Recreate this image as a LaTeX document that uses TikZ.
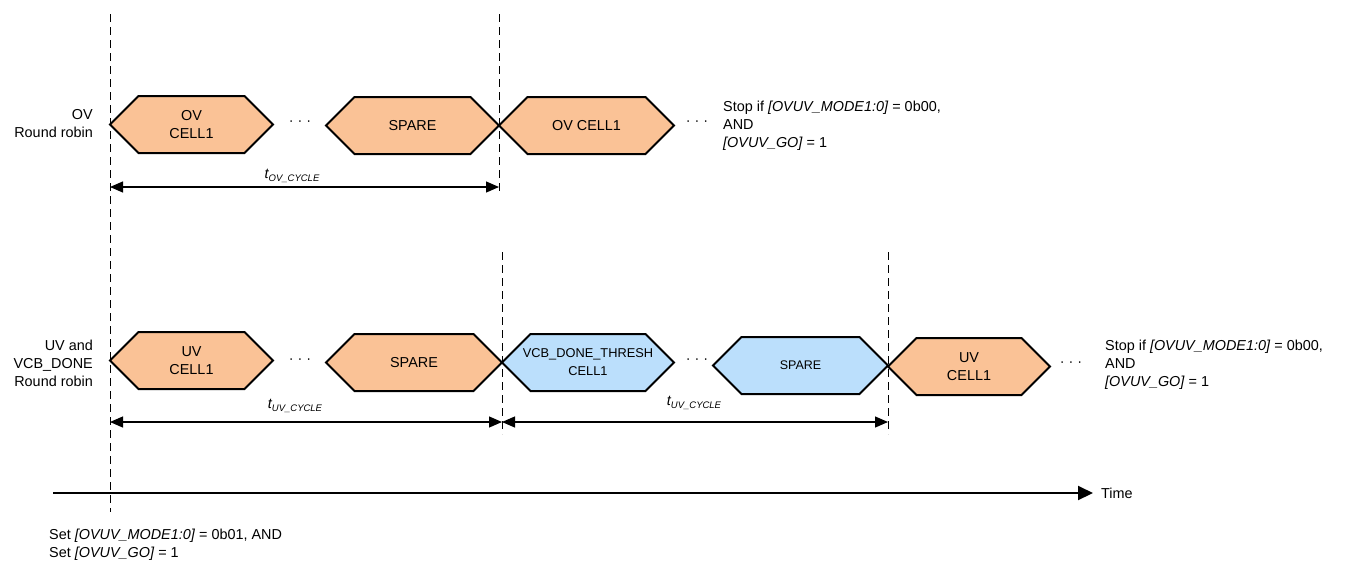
\documentclass[tikz,border=0pt]{standalone}
\usepackage{fontspec}
\setmainfont{Liberation Sans}
\usetikzlibrary{arrows.meta}
\definecolor{hexorange}{RGB}{250,194,150}
\definecolor{hexblue}{RGB}{187,223,252}
\newcommand\hexbox[7]{%
  % #1 name, #2 xleft point, #3 xright point, #4 ytop, #5 ybot, #6 fill, #7 text
  \pgfmathsetmacro\hxs{(#5-#4)/2}%
  \draw[hexline,fill=#6] (#2,{(#4+#5)/2}) -- (#2+\hxs,#4) -- (#3-\hxs,#4) -- (#3,{(#4+#5)/2}) -- (#3-\hxs,#5) -- (#2+\hxs,#5) -- cycle;
  \node[txt,align=center] (#1) at ({(#2+#3)/2},{(#4+#5)/2}) {#7};%
}
\newcommand\vcbfont{\fontsize{12.8}{17}\selectfont}
\begin{document}
\begin{tikzpicture}[x=1pt,y=-1pt,
  txt/.style={font=\fontsize{14.4}{18}\selectfont,inner sep=0pt,text=black},
  sub/.style={font=\fontsize{14.4}{18}\selectfont\itshape,inner sep=0pt},
  hexline/.style={draw=black,line width=2pt,line join=miter},
  guide/.style={draw=black,line width=0.9pt,dash pattern=on 8pt off 5pt},
  dim/.style={draw=black,line width=1.2pt,{Triangle[length=13pt,width=11pt]}-{Triangle[length=13pt,width=11pt]}},
  dots/.style={font=\fontsize{14.4}{18}\selectfont,inner sep=0pt}]
\useasboundingbox (0,0) rectangle (1348,563);

% guide lines
\coordinate (g1t) at (110,14);  \coordinate (g1b) at (110,512);
\coordinate (g2t) at (499,14);  \coordinate (g2b) at (499,192);
\coordinate (g3t) at (502,252); \coordinate (g3b) at (502,434);
\coordinate (g4t) at (888,252); \coordinate (g4b) at (888,434);
\draw[guide] (g1t) -- (g1b);
\draw[guide] (g2t) -- (g2b);
\draw[guide] (g3t) -- (g3b);
\draw[guide] (g4t) -- (g4b);

% row 1
\node[txt,align=right,anchor=east] (lab1) at (93,124) {OV\\Round robin};
\hexbox{ov1}{110}{273}{96}{153}{hexorange}{OV\\CELL1}
\node[dots] (d1) at (300,123) {·\hspace{4pt}·\hspace{4pt}·};
\hexbox{sp1}{326}{499}{97}{154}{hexorange}{SPARE}
\hexbox{ov2}{499}{674}{97}{154}{hexorange}{OV CELL1}
\node[dots] (d2) at (697,123) {·\hspace{4pt}·\hspace{4pt}·};
\node[txt,align=left,anchor=west] (stop1) at (723,126) {Stop if \textit{[OVUV\_MODE1:0]} = 0b00,\\AND\\\textit{[OVUV\_GO]} = 1};
\coordinate (a1l) at (110,187); \coordinate (a1r) at (499,187);
\draw[dim] (a1l) -- (a1r);
\node[sub] (t1) at (292,176) {t\raisebox{-3pt}{\fontsize{9.5}{10}\selectfont OV\_CYCLE}};

% row 2
\node[txt,align=right,anchor=east] (lab2) at (93,363) {UV and\\VCB\_DONE\\Round robin};
\hexbox{uv1}{110}{273}{332}{389}{hexorange}{UV\\CELL1}
\node[dots] (d3) at (300,361) {·\hspace{4pt}·\hspace{4pt}·};
\hexbox{sp2}{326}{502}{334}{391}{hexorange}{SPARE}
\hexbox{vcb}{502}{674}{334}{391}{hexblue}{\vcbfont VCB\_DONE\_THRESH\\\vcbfont CELL1}
\node[dots] (d4) at (697,361) {·\hspace{4pt}·\hspace{4pt}·};
\hexbox{sp3}{713}{888}{337}{394}{hexblue}{\fontsize{12.5}{14}\selectfont SPARE}
\hexbox{uv2}{888}{1050}{338}{395}{hexorange}{UV\\CELL1}
\node[dots] (d5) at (1071,364) {·\hspace{4pt}·\hspace{4pt}·};
\node[txt,align=left,anchor=west] (stop2) at (1105,365) {Stop if \textit{[OVUV\_MODE1:0]} = 0b00,\\AND\\\textit{[OVUV\_GO]} = 1};
\coordinate (a2l) at (110,422); \coordinate (a2m) at (502,422); \coordinate (a2r) at (888,422);
\draw[dim] (a2l) -- (a2m);
\draw[dim] (a2m) -- (a2r);
\node[sub] (t2) at (295,406) {t\raisebox{-3pt}{\fontsize{9.5}{10}\selectfont UV\_CYCLE}};
\node[sub] (t3) at (694,403) {t\raisebox{-3pt}{\fontsize{9.5}{10}\selectfont UV\_CYCLE}};

% time axis
\coordinate (ts) at (53,493);
\node[txt,anchor=west] (time) at (1101,493) {Time};
\draw[line width=2pt,-{Triangle[length=15pt,width=14pt]},shorten >=8pt] (ts) -- (time.west);

\node[txt,align=left,anchor=west] (set) at (49,545) {Set \textit{[OVUV\_MODE1:0]} = 0b01, AND\\Set \textit{[OVUV\_GO]} = 1};
\end{tikzpicture}
\end{document}
